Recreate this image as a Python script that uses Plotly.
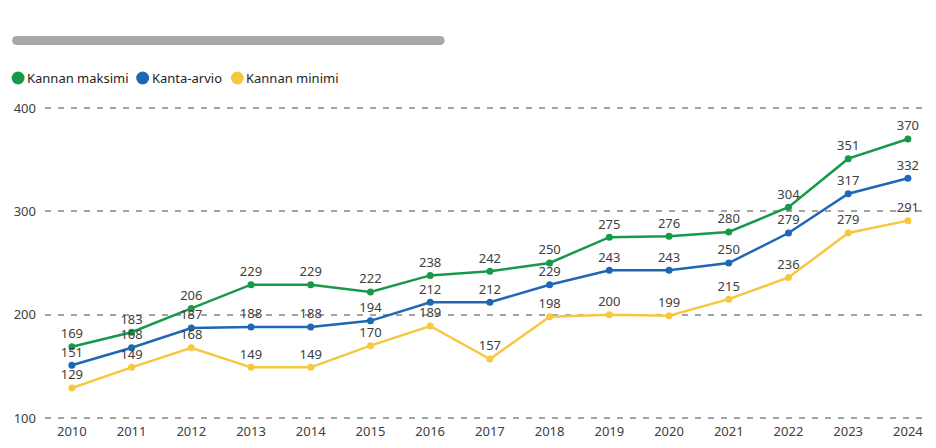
import plotly.graph_objects as go

years = ["2010", "2011", "2012", "2013", "2014", "2015", "2016", "2017",
         "2018", "2019", "2020", "2021", "2022", "2023", "2024"]
kannan_maksimi = [169, 183, 206, 229, 229, 222, 238, 242, 250, 275, 276, 280, 304, 351, 370]
kanta_arvio = [151, 168, 187, 188, 188, 194, 212, 212, 229, 243, 243, 250, 279, 317, 332]
kannan_minimi = [129, 149, 168, 149, 149, 170, 189, 157, 198, 200, 199, 215, 236, 279, 291]
series_names = ["Kannan maksimi", "Kanta-arvio", "Kannan minimi"]
series_colors = ["#17994a", "#1f67b4", "#f6c83f"]
y_ticks = [100, 200, 300, 400]

# page body has an 8px margin; lay out in figure coordinates
OFF = 8
W, H = 936 - OFF, 448 - OFF
ML, MR, MT, MB = 42 - OFF, 6, 107 - OFF, 29
PW, PH = W - ML - MR, H - MT - MB


def px(x):
    return (x - OFF - ML) / PW


def py(y):
    return (H - MB - (y - OFF)) / PH


fig = go.Figure()
for name, vals, col in zip(series_names, [kannan_maksimi, kanta_arvio, kannan_minimi], series_colors):
    fig.add_trace(go.Scatter(
        x=years, y=vals, name=name, mode="lines+markers+text",
        line=dict(color=col, width=2.5), marker=dict(color=col, size=7),
        text=[str(v) for v in vals], textposition="top center",
        textfont=dict(family="Noto Sans, Open Sans, sans-serif", size=13, color="#404040"),
        showlegend=False, cliponaxis=False,
    ))

shapes = []
# scrollbar
bar_y0, bar_y1 = 36, 45
r = (bar_y1 - bar_y0) / 2
bx0, bx1 = 9, 443
shapes.append(dict(type="rect", xref="paper", yref="paper",
                   x0=px(bx0 + r), x1=px(bx1 - r), y0=py(bar_y1), y1=py(bar_y0),
                   fillcolor="#a8a8a8", line=dict(width=0)))
for cx in (bx0 + r, bx1 - r):
    shapes.append(dict(type="circle", xref="paper", yref="paper",
                       x0=px(cx - r), x1=px(cx + r), y0=py(bar_y1), y1=py(bar_y0),
                       fillcolor="#a8a8a8", line=dict(width=0)))

# legend (manual)
annotations = []
leg_cx = [15, 140, 235]
leg_cy = 78
lr = 6.5
for name, col, cx in zip(series_names, series_colors, leg_cx):
    shapes.append(dict(type="circle", xref="paper", yref="paper",
                       x0=px(cx - lr), x1=px(cx + lr), y0=py(leg_cy + lr), y1=py(leg_cy - lr),
                       fillcolor=col, line=dict(width=0)))
    annotations.append(dict(xref="paper", yref="paper", x=px(cx + 7), y=py(leg_cy),
                            text=name, showarrow=False, xanchor="left", yanchor="middle",
                            font=dict(family="Noto Sans, Open Sans, sans-serif", size=13, color="#252423")))

fig.update_layout(
    width=W, height=H,
    margin=dict(l=ML, r=MR, t=MT, b=MB),
    paper_bgcolor="white", plot_bgcolor="white",
    shapes=shapes, annotations=annotations,
    font=dict(family="Noto Sans, Open Sans, sans-serif", size=12, color="#605e5c"),
    xaxis=dict(type="category", range=[-0.45, 14.37], showgrid=False, zeroline=False,
               showline=False, ticks="", ticklabelstandoff=3,
               tickfont=dict(size=13, color="#404040")),
    yaxis=dict(range=[99, 401], tickvals=y_ticks, showgrid=True, gridcolor="#a3a3a3",
               griddash="6px,7px", gridwidth=1.5, zeroline=False, showline=False, ticks="",
               ticklabelstandoff=8, tickfont=dict(size=13, color="#404040")),
)

fig.write_html("out.html")
